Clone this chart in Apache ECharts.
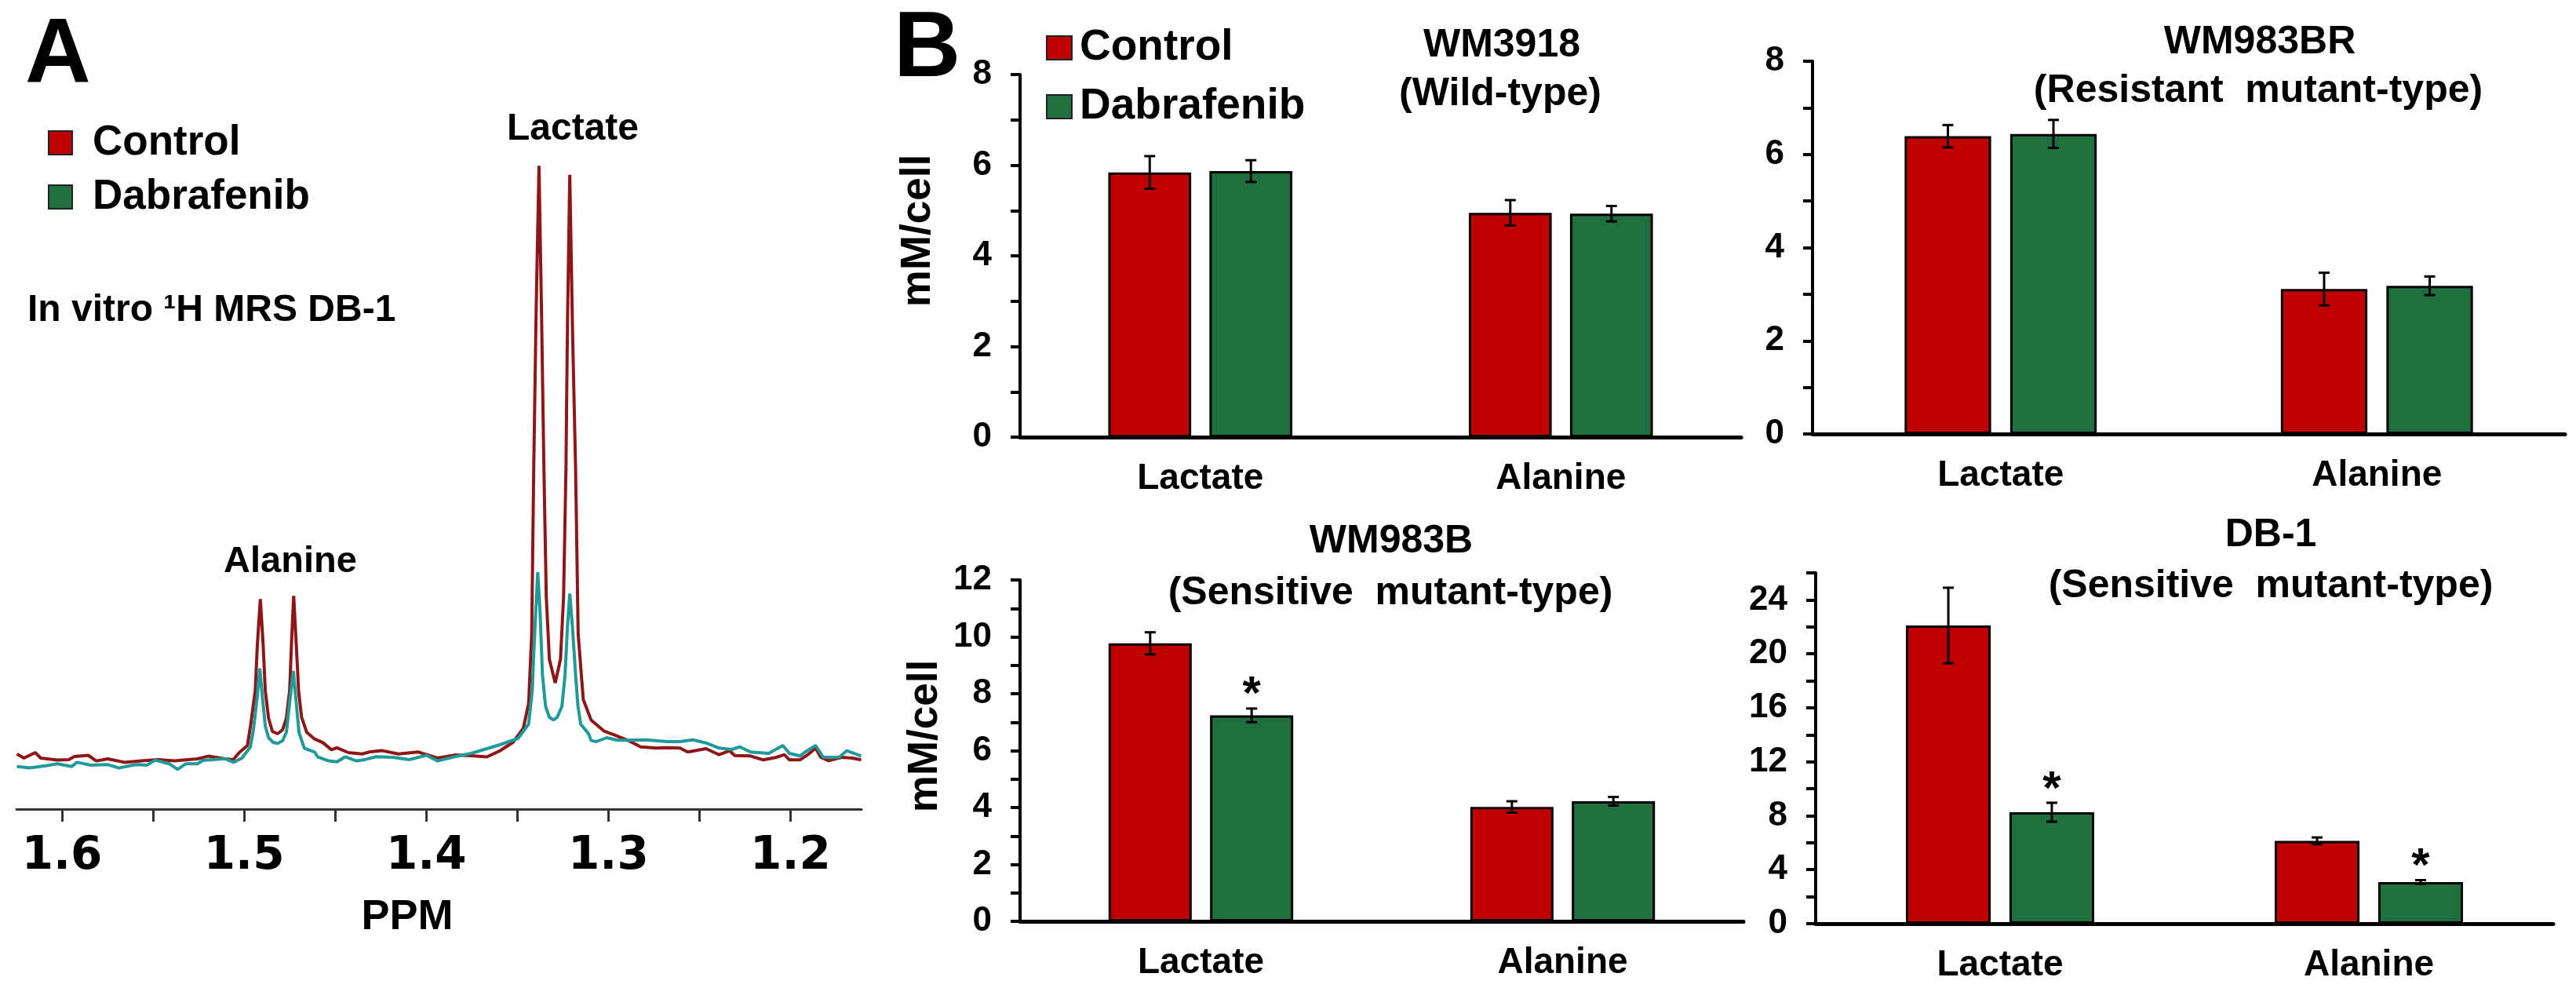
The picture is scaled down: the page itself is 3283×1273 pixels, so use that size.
<!DOCTYPE html>
<html>
<head>
<meta charset="utf-8">
<script src="https://cdn.jsdelivr.net/npm/echarts@6/dist/echarts.min.js"></script>
<style>
  html, body { margin: 0; padding: 0; background: #fff; }
  #chart { width: 3283px; height: 1273px; }
</style>
</head>
<body>
<div id="chart"></div>
<script>
// ---- panel A: 1H MRS spectrum, [ppm, intensity] ----
var ppmTicks = [1.2, 1.25, 1.3, 1.35, 1.4, 1.45, 1.5, 1.55, 1.6];
var ppmLabels = [1.2, 1.3, 1.4, 1.5, 1.6];

var controlSpectrum = [
  [1.6248, 70.3], [1.6209, 65], [1.6147, 72], [1.6117, 65], [1.6025, 62.4], [1.5963, 63],
  [1.5932, 67], [1.5856, 68.5], [1.5812, 61.4], [1.5749, 64], [1.5657, 59.6], [1.5564, 61.4],
  [1.5472, 63], [1.5382, 61.4], [1.5257, 64], [1.5197, 67.4], [1.5104, 64], [1.5060, 63],
  [1.5027, 72], [1.4982, 81], [1.4965, 106], [1.4939, 151], [1.4927, 211], [1.4911, 267.7],
  [1.4896, 211], [1.4884, 151], [1.4866, 116], [1.4845, 99], [1.4816, 96], [1.4789, 101],
  [1.4768, 116], [1.4750, 151], [1.4740, 211], [1.4728, 271.7], [1.4714, 211], [1.4701, 151],
  [1.4685, 117.7], [1.4656, 97.7], [1.4613, 89.3], [1.4567, 84.6], [1.4521, 75.6], [1.4490, 78.1],
  [1.4428, 72], [1.4352, 70.3], [1.4306, 73.1], [1.4245, 74.6], [1.4153, 70.3], [1.4046, 72.8],
  [1.3938, 65], [1.3839, 69], [1.3753, 68], [1.3667, 66.5], [1.3596, 74.3], [1.3524, 85],
  [1.3467, 103], [1.3438, 134.5], [1.3421, 223.4], [1.3410, 433], [1.3397, 631], [1.3381, 819.6],
  [1.3367, 631], [1.3354, 433], [1.3341, 271], [1.3324, 191], [1.3292, 160.6], [1.3263, 191],
  [1.3246, 271], [1.3233, 433], [1.3225, 611], [1.3212, 808.1], [1.3197, 611], [1.3180, 433],
  [1.3166, 223.4], [1.3138, 139.7], [1.3095, 113.6], [1.3023, 99.3], [1.2966, 94.3], [1.2894, 87.7],
  [1.2822, 79.3], [1.2736, 77.7], [1.2679, 78.3], [1.2607, 77.7], [1.2564, 72.7], [1.2464, 77],
  [1.2392, 69.3], [1.2335, 74.3], [1.2306, 68.3], [1.2220, 67.7], [1.2149, 62.7], [1.2077, 66],
  [1.2034, 69.3], [1.2006, 62.7], [1.1948, 62.7], [1.1905, 69.3], [1.1862, 77.7], [1.1834, 66],
  [1.1791, 61.7], [1.1719, 66], [1.1662, 65], [1.1612, 62.7]
];

var dabrafenibSpectrum = [
  [1.6248, 54.2], [1.6178, 52.4], [1.6087, 55.3], [1.6025, 57.8], [1.5948, 54.2], [1.5917, 59.6],
  [1.5842, 56], [1.5749, 56.7], [1.5687, 52.4], [1.5595, 56.7], [1.5534, 56], [1.5488, 62.4],
  [1.5412, 57.8], [1.5365, 50.6], [1.5319, 57.8], [1.5257, 57.8], [1.5227, 62], [1.5104, 64.2],
  [1.5058, 59.6], [1.5012, 65], [1.4966, 79], [1.4949, 101], [1.4929, 141], [1.4914, 179.3],
  [1.4899, 141], [1.4884, 106], [1.4866, 91], [1.4841, 85], [1.4816, 83.7], [1.4789, 87],
  [1.4768, 98], [1.4750, 136], [1.4730, 176], [1.4714, 136], [1.4699, 98], [1.4670, 77.7],
  [1.4613, 72.7], [1.4597, 66.7], [1.4536, 61.4], [1.4490, 60.3], [1.4444, 66.7], [1.4383, 61.4],
  [1.4337, 63.1], [1.4275, 66.7], [1.4183, 66], [1.4091, 63.1], [1.3999, 68.5], [1.3938, 61.4],
  [1.3839, 67], [1.3753, 71], [1.3667, 77], [1.3596, 82], [1.3496, 90], [1.3438, 108.3],
  [1.3418, 151], [1.3410, 197.2], [1.3399, 251], [1.3388, 302], [1.3375, 251], [1.3362, 171],
  [1.3345, 131], [1.3324, 117], [1.3302, 113.6], [1.3281, 117], [1.3255, 131], [1.3238, 171],
  [1.3225, 231], [1.3212, 274.6], [1.3197, 231], [1.3180, 171], [1.3167, 131], [1.3152, 108.3],
  [1.3109, 96], [1.3095, 87.4], [1.3066, 86], [1.3009, 91], [1.2951, 87.7], [1.2894, 87.7],
  [1.2794, 88.3], [1.2679, 86], [1.2607, 86], [1.2536, 88.3], [1.2464, 84.3], [1.2392, 77.7],
  [1.2321, 76], [1.2278, 79.3], [1.2220, 72.7], [1.2120, 71], [1.2042, 81], [1.2006, 71],
  [1.1948, 67.7], [1.1920, 72.7], [1.1862, 81], [1.1820, 66], [1.1734, 66], [1.1691, 74.3],
  [1.1612, 67.7]
];

// ---- panel B: mM/cell, mean and error ----
var categories = ['Lactate', 'Alanine'];

var wm3918Control = [5.84, 4.95];
var wm3918ControlErr = [0.36, 0.28];
var wm3918Dabrafenib = [5.87, 4.93];
var wm3918DabrafenibErr = [0.24, 0.17];

var wm983brControl = [6.39, 3.11];
var wm983brControlErr = [0.24, 0.35];
var wm983brDabrafenib = [6.44, 3.18];
var wm983brDabrafenibErr = [0.30, 0.20];

var wm983bControl = [9.77, 4.02];
var wm983bControlErr = [0.39, 0.20];
var wm983bDabrafenib = [7.24, 4.22];
var wm983bDabrafenibErr = [0.24, 0.15];
var wm983bSignificant = [true, false];

var db1Control = [22.1, 6.14];
var db1ControlErr = [2.8, 0.25];
var db1Dabrafenib = [8.26, 3.09];
var db1DabrafenibErr = [0.70, 0.14];
var db1Significant = [true, true];

var ticks8 = [0, 1, 2, 3, 4, 5, 6, 7, 8];
var labels8 = [0, 2, 4, 6, 8];
var ticks12 = [0, 1, 2, 3, 4, 5, 6, 7, 8, 9, 10, 11, 12];
var labels12 = [0, 2, 4, 6, 8, 10, 12];
var ticks26 = [0, 2, 4, 6, 8, 10, 12, 14, 16, 18, 20, 22, 24, 26];
var labels26 = [0, 4, 8, 12, 16, 20, 24];

// ---- styling ----
var FONT = '"Liberation Sans", Arial, sans-serif';
var RED = '#C00000', GREEN = '#1F6F3F';
var SPEC_RED = '#8E1616', SPEC_TEAL = '#1F9A98';
var BAR_W = 0.23, BAR_GAP = 0.22;

var chart = echarts.init(document.getElementById('chart'));

function errorBars(idx, means, errs, sig, side) {
  return {
    type: 'custom', xAxisIndex: idx, yAxisIndex: idx, z: 10,
    data: means.map(function (m, i) { return [i, m, errs[i], sig && sig[i] ? 1 : 0]; }),
    encode: { x: 0, y: 1 },
    renderItem: function (params, api) {
      var i = api.value(0), m = api.value(1), e = api.value(2);
      var bw = api.size([1, 0])[0] * BAR_W;
      var x = api.coord([i, m])[0] + side * (bw + bw * BAR_GAP) / 2;
      var top = api.coord([i, m + e])[1], bot = api.coord([i, m - e])[1];
      var cap = 7, st = { stroke: '#000', lineWidth: 3 };
      var kids = [
        { type: 'line', shape: { x1: x, y1: top, x2: x, y2: bot }, style: st },
        { type: 'line', shape: { x1: x - cap, y1: top, x2: x + cap, y2: top }, style: st },
        { type: 'line', shape: { x1: x - cap, y1: bot, x2: x + cap, y2: bot }, style: st }
      ];
      if (api.value(3)) {
        kids.push({ type: 'text', x: x, y: top - 16,
          style: { text: '*', font: 'bold 60px ' + FONT, fill: '#000', align: 'center', verticalAlign: 'middle' } });
      }
      return { type: 'group', children: kids };
    }
  };
}

var panels = [
  { grid: { left: 1300, top: 95, width: 919, height: 462 }, max: 8, ticks: ticks8, labels: labels8,
    ctrl: wm3918Control, ctrlErr: wm3918ControlErr, dab: wm3918Dabrafenib, dabErr: wm3918DabrafenibErr, sig: null },
  { grid: { left: 2310, top: 78, width: 959, height: 475 }, max: 8, ticks: ticks8, labels: labels8,
    ctrl: wm983brControl, ctrlErr: wm983brControlErr, dab: wm983brDabrafenib, dabErr: wm983brDabrafenibErr, sig: null },
  { grid: { left: 1300, top: 739, width: 922, height: 435 }, max: 12, ticks: ticks12, labels: labels12,
    ctrl: wm983bControl, ctrlErr: wm983bControlErr, dab: wm983bDabrafenib, dabErr: wm983bDabrafenibErr, sig: wm983bSignificant },
  { grid: { left: 2314, top: 730, width: 940, height: 447 }, max: 26, ticks: ticks26, labels: labels26,
    ctrl: db1Control, ctrlErr: db1ControlErr, dab: db1Dabrafenib, dabErr: db1DabrafenibErr, sig: db1Significant }
];

var grids = [{ left: 21, top: 150, width: 1077, height: 881 }];
var xAxes = [{
  type: 'value', gridIndex: 0, inverse: true, min: 1.161, max: 1.625,
  axisLine: { lineStyle: { color: '#333', width: 3 } },
  axisTick: { customValues: ppmTicks, length: 16, lineStyle: { color: '#333', width: 3 } },
  axisLabel: { customValues: ppmLabels, margin: 32, color: '#000',
    fontFamily: '"DejaVu Sans", sans-serif', fontWeight: 'bold', fontSize: 58,
    formatter: function (v) { return v.toFixed(1); } },
  splitLine: { show: false }
}];
var yAxes = [{ type: 'value', gridIndex: 0, min: 0, max: 881, show: false }];
var series = [
  { type: 'line', name: 'Control', xAxisIndex: 0, yAxisIndex: 0, data: controlSpectrum,
    showSymbol: false, lineStyle: { color: SPEC_RED, width: 4 }, itemStyle: { color: SPEC_RED } },
  { type: 'line', name: 'Dabrafenib', xAxisIndex: 0, yAxisIndex: 0, data: dabrafenibSpectrum,
    showSymbol: false, lineStyle: { color: SPEC_TEAL, width: 4 }, itemStyle: { color: SPEC_TEAL } }
];

panels.forEach(function (p, k) {
  var idx = k + 1;
  grids.push(p.grid);
  xAxes.push({
    type: 'category', gridIndex: idx, data: categories,
    axisLine: { lineStyle: { color: '#000', width: 5 } },
    axisTick: { show: false },
    axisLabel: { margin: 30, color: '#000', fontFamily: FONT, fontWeight: 'bold', fontSize: 46 }
  });
  yAxes.push({
    type: 'value', gridIndex: idx, min: 0, max: p.max,
    axisLine: { show: true, lineStyle: { color: '#000', width: 4 } },
    axisTick: { show: true, customValues: p.ticks, length: 12, lineStyle: { color: '#000', width: 4 } },
    axisLabel: { customValues: p.labels, margin: 36, color: '#000', fontFamily: FONT, fontWeight: 'bold', fontSize: 44 },
    splitLine: { show: false }
  });
  series.push(
    { type: 'bar', name: 'Control', xAxisIndex: idx, yAxisIndex: idx, data: p.ctrl,
      barWidth: (BAR_W * 100) + '%', barGap: (BAR_GAP * 100) + '%',
      itemStyle: { color: RED, borderColor: '#000', borderWidth: 3 } },
    { type: 'bar', name: 'Dabrafenib', xAxisIndex: idx, yAxisIndex: idx, data: p.dab,
      barWidth: (BAR_W * 100) + '%', barGap: (BAR_GAP * 100) + '%',
      itemStyle: { color: GREEN, borderColor: '#000', borderWidth: 3 } },
    errorBars(idx, p.ctrl, p.ctrlErr, null, -1),
    errorBars(idx, p.dab, p.dabErr, p.sig, 1)
  );
});

function txt(text, x, y, size, align, rot) {
  return { type: 'text', x: x, y: y, rotation: rot || 0,
    style: { text: text, font: 'bold ' + size + 'px ' + FONT, fill: '#000',
      align: align || 'center', verticalAlign: 'middle' } };
}

var legendItems = [
  { name: 'Control', itemStyle: { color: RED, borderColor: '#222', borderWidth: 2 } },
  { name: 'Dabrafenib', itemStyle: { color: GREEN, borderColor: '#222', borderWidth: 2 } }
];

option = {
  backgroundColor: '#fff',
  animation: false,
  grid: grids,
  xAxis: xAxes,
  yAxis: yAxes,
  series: series,
  legend: [
    { orient: 'vertical', left: 56, top: 149, icon: 'rect', itemWidth: 30, itemHeight: 30, itemGap: 13,
      selectedMode: false, data: legendItems,
      textStyle: { fontFamily: FONT, fontWeight: 'bold', fontSize: 53, color: '#000', lineHeight: 56, padding: [0, 0, 0, 21] } },
    { orient: 'vertical', left: 1328, top: 26, icon: 'rect', itemWidth: 32, itemHeight: 30, itemGap: 15,
      selectedMode: false, data: legendItems,
      textStyle: { fontFamily: FONT, fontWeight: 'bold', fontSize: 55, color: '#000', lineHeight: 60, padding: [0, 0, 0, 5] } }
  ],
  graphic: [
    txt('A', 32, 73, 116, 'left'),
    txt('In vitro \u00B9H MRS DB-1', 35, 396, 48, 'left'),
    txt('Lactate', 730, 165, 48),
    txt('Alanine', 370, 716, 47),
    txt('PPM', 519, 1169, 54),
    txt('B', 1139, 64, 118, 'left'),
    txt('mM/cell', 1170, 294, 53, 'center', Math.PI / 2),
    txt('mM/cell', 1179, 938, 53, 'center', Math.PI / 2),
    txt('WM3918', 1914, 58, 50),
    txt('(Wild-type)', 1912, 120, 50),
    txt('WM983BR', 2880, 54, 50),
    txt('(Resistant  mutant-type)', 2878, 116, 50),
    txt('WM983B', 1773, 690, 50),
    txt('(Sensitive  mutant-type)', 1772, 756, 50),
    txt('DB-1', 2894, 682, 50),
    txt('(Sensitive  mutant-type)', 2894, 747, 50)
  ]
};

chart.setOption(option, true);
</script>
</body>
</html>
